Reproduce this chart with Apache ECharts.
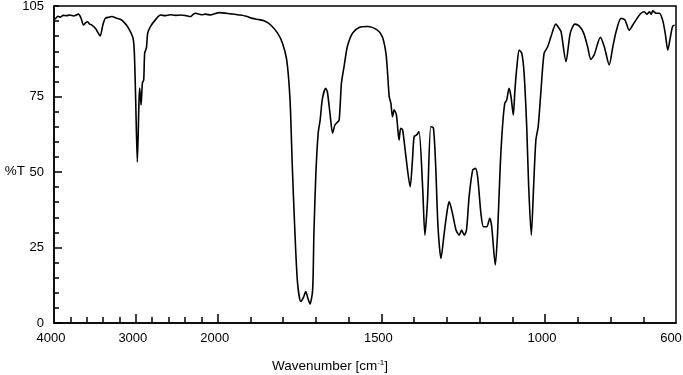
<!DOCTYPE html>
<html>
<head>
<meta charset="utf-8">
<script src="https://cdn.jsdelivr.net/npm/echarts@6/dist/echarts.min.js"></script>
<style>
html,body{margin:0;padding:0;background:#fff;}
#chart{width:683px;height:375px;}
</style>
</head>
<body>
<div id="chart"></div>
<script>
// spectrum: wavenumber [cm-1] and %T
var wavenumbers = [3988,3950,3920,3890,3850,3804,3760,3702,3670,3640,3615,3591,3565,3537,3490,3436,3405,3374,3330,3292,3240,3190,3140,3088,3034,3018,3002,2982,2961,2953,2936,2920,2904,2892,2871,2855,2822,2761,2699,2638,2580,2515,2450,2390,2331,2300,2270,2200,2150,2086,2040,1996,1960,1930,1910,1894,1875,1858,1838,1817,1802,1789,1779,1772,1764,1756,1746,1738,1731,1724,1718,1710,1706,1700,1693,1687,1680,1670,1665,1657,1649,1642,1636,1629,1622,1614,1604,1588,1568,1542,1512,1497,1486,1481,1476,1471,1466,1461,1454,1446,1441,1435,1425,1412,1405,1400,1392,1385,1374,1367,1359,1349,1341,1334,1327,1318,1308,1300,1293,1283,1272,1262,1255,1247,1240,1232,1221,1213,1206,1196,1188,1178,1169,1163,1152,1145,1137,1130,1123,1117,1110,1104,1097,1092,1086,1079,1071,1064,1056,1050,1042,1035,1028,1021,1013,1003,992,982,967,957,951,936,923,909,896,882,870,860,850,831,819,804,793,783,768,756,743,732,719,707,697,689,681,676,671,661,651,641,633,625,617,610,604];
var transmittance = [100.6,101.6,101.3,101.9,101.8,102.0,101.7,102.3,101.0,98.7,99.4,99.8,99.0,98.7,97.5,95.1,98.5,100.9,101.3,101.5,101.0,100.6,99.5,97.6,94.3,89.4,73.9,53.3,73.9,77.8,72.2,79.5,80.5,89.4,91.1,96.0,98.2,100.4,102.0,101.8,102.1,101.9,102.0,101.8,101.5,102.2,102.6,102.1,102.3,102.0,102.4,102.8,102.4,102.0,101.5,100.9,100.5,100.1,98.7,96.0,92.7,87.1,73.9,51.7,29.8,13.2,7.1,8.5,10.4,8.0,6.3,10.9,29.8,49.7,62.9,67.2,74.4,77.7,76.6,69.5,62.9,65.6,66.3,67.2,79.4,84.9,91.5,96.0,97.9,98.2,97.0,94.8,89.3,82.7,75.0,72.8,68.3,70.6,68.9,60.6,64.5,63.9,55.1,45.1,54.0,61.7,62.3,63.4,45.1,29.1,40.7,65.0,64.6,51.8,31.9,21.4,29.8,36.4,40.2,36.4,30.8,29.1,30.8,29.1,30.8,41.8,50.7,51.2,48.5,36.4,31.9,31.9,34.7,31.9,19.2,29.8,51.8,65.0,72.8,73.9,77.7,75.0,68.9,77.2,84.9,90.4,89.3,82.7,65.0,45.1,29.1,45.1,60.6,65.0,76.1,89.3,91.5,94.8,99.0,97.6,96.5,86.6,96.0,99.0,98.4,96.0,91.5,87.3,88.8,94.6,91.5,85.5,91.5,96.5,100.9,100.4,97.0,98.7,100.9,102.6,103.1,102.3,103.1,102.3,103.4,102.6,102.6,100.4,96.0,90.4,94.8,98.4,98.6];

var xLabels = [4000, 3000, 2000, 1500, 1000, 600];
var xMajorTicks = [3000, 2000, 1500, 1000];
var xMinorTicks = [3800, 3600, 3400, 3200, 2800, 2600, 2400, 2200, 1900, 1800, 1700, 1600, 1400, 1300, 1200, 1100, 900, 800, 700];
var yLabels = [0, 25, 50, 75, 105];
var yMajorTicks = [0, 25, 50, 75];

// axis is compressed 4x above 2000 cm-1
function toX(w) {
	return w >= 2000 ? (4000 - w) / 4 : 500 + (2000 - w);
}
function fromX(x) {
	return x <= 500 ? 4000 - x * 4 : 2000 - (x - 500);
}

var points = wavenumbers.map(function (w, i) { return [toX(w), transmittance[i]]; });

var font = 'Liberation Sans, Arial, sans-serif';
var myChart = echarts.init(document.getElementById('chart'));
var option = {
	animation: false,
	grid: {
		left: 54, right: 7, top: 6, bottom: 52,
		outerBoundsMode: 'none',
		containLabel: false,
		show: true,
		borderColor: '#000',
		borderWidth: 1.5
	},
	xAxis: [{
		type: 'value',
		min: 0,
		max: 1900,
		position: 'bottom',
		name: 'Wavenumber [cm{sup|-1}]',
		nameLocation: 'middle',
		nameGap: 36,
		nameMoveOverlap: false,
		nameTextStyle: {
			color: '#000', fontSize: 13.5, fontFamily: font,
			padding: [0, 70, 0, 0],
			rich: { sup: { fontSize: 8, verticalAlign: 'top', padding: [0, 0, 6, 0], color: '#000', fontFamily: font } }
		},
		axisLine: { lineStyle: { color: '#000', width: 1.5 } },
		axisTick: { inside: true, length: 9, lineStyle: { color: '#000', width: 1.5 }, customValues: xMajorTicks.map(toX) },
		axisLabel: {
			color: '#000', fontSize: 13, fontFamily: font, margin: 9,
			padding: [0, 6, 0, 0],
			customValues: xLabels.map(toX),
			formatter: function (v) {
				var w = Math.round(fromX(v));
				return w === 600 ? '{r|600}' : String(w);
			},
			rich: { r: { color: '#000', fontSize: 13, fontFamily: font, padding: [0, 4, 0, 0] } }
		},
		splitLine: { show: false }
	}, {
		type: 'value',
		min: 0,
		max: 1900,
		position: 'bottom',
		axisLine: { show: false },
		axisTick: { inside: true, length: 6, lineStyle: { color: '#000', width: 1.5 }, customValues: xMinorTicks.map(toX) },
		axisLabel: { show: false },
		splitLine: { show: false }
	}],
	yAxis: [{
		type: 'value',
		min: 0,
		max: 105,
		position: 'left',
		name: '\n%T',
		nameLocation: 'middle',
		nameRotate: 0,
		nameGap: 29,
		nameMoveOverlap: false,
		nameTextStyle: { color: '#000', fontSize: 13.5, fontFamily: font, lineHeight: 14 },
		axisLine: { lineStyle: { color: '#000', width: 1.5 } },
		axisTick: { inside: true, length: 8, lineStyle: { color: '#000', width: 1.5 }, customValues: yMajorTicks },
		axisLabel: { color: '#000', fontSize: 13, fontFamily: font, margin: 10, customValues: yLabels },
		splitLine: { show: false }
	}, {
		type: 'value',
		min: 0,
		max: 105,
		interval: 5,
		position: 'left',
		axisLine: { show: false },
		axisTick: { inside: true, length: 5, lineStyle: { color: '#000', width: 1.5 } },
		axisLabel: { show: false },
		splitLine: { show: false }
	}],
	series: [{
		type: 'line',
		xAxisIndex: 0,
		yAxisIndex: 0,
		data: points,
		showSymbol: false,
		smooth: 0.25,
		lineStyle: { color: '#000', width: 1.6 }
	}]
};
myChart.setOption(option);
</script>
</body>
</html>
